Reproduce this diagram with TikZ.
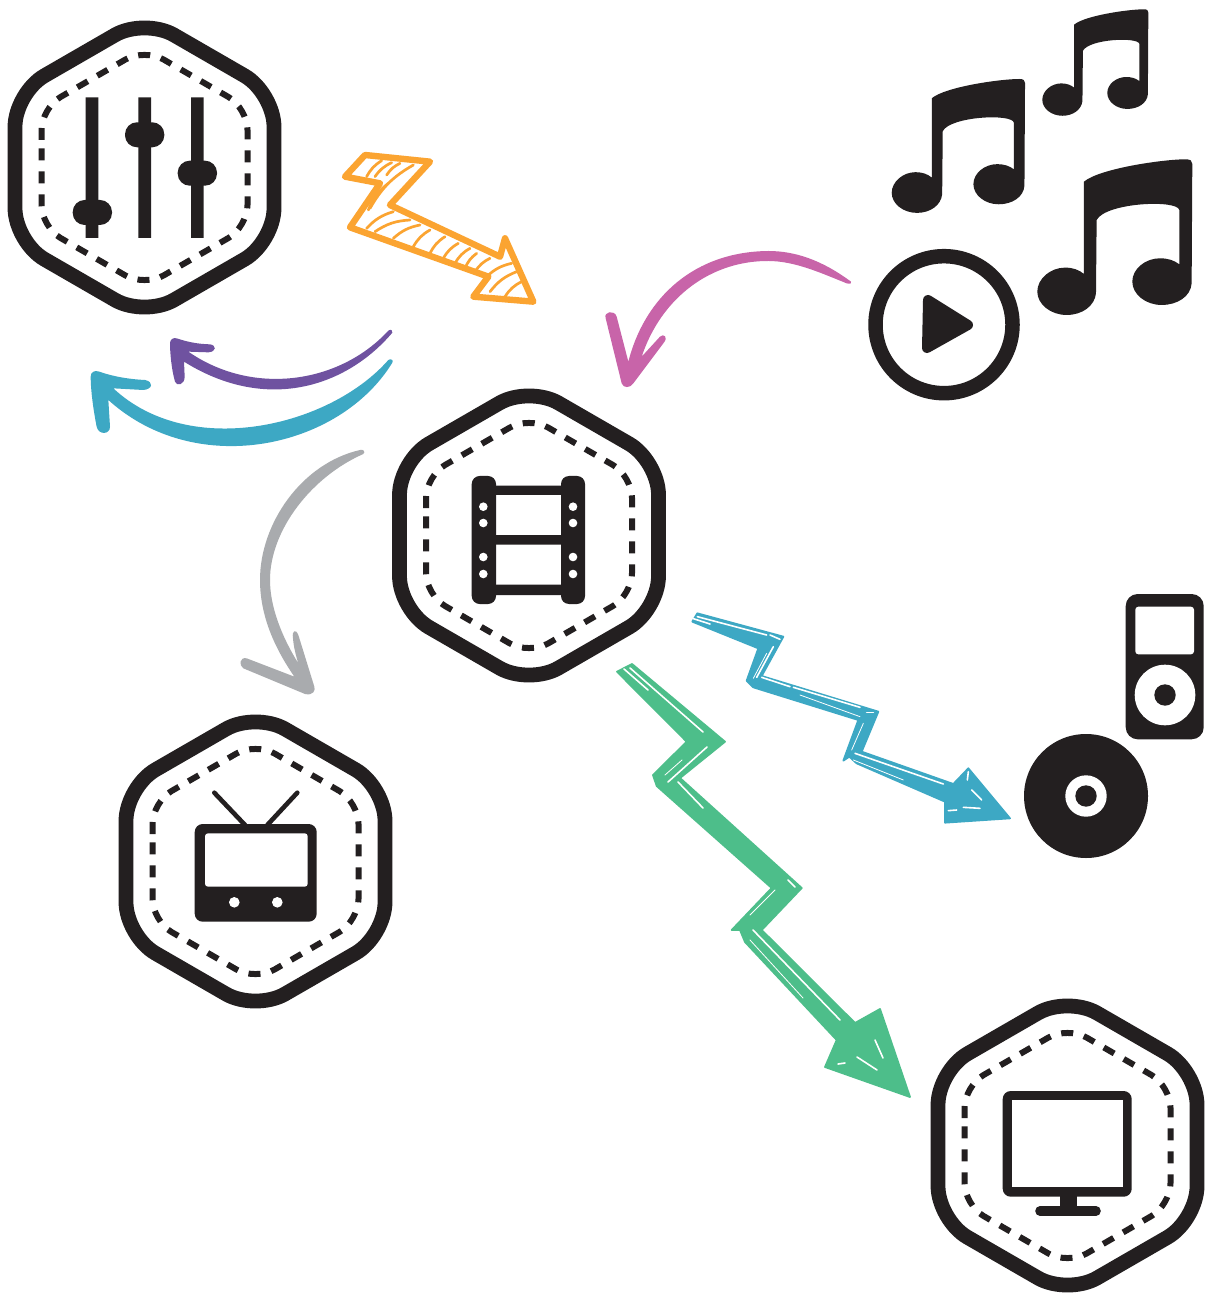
\documentclass[tikz,border=0pt]{standalone}
\definecolor{ink}{HTML}{231F20}
\definecolor{orangeA}{HTML}{FBA431}
\definecolor{pinkA}{HTML}{C864A9}
\definecolor{purpleA}{HTML}{6F52A0}
\definecolor{tealA}{HTML}{3DA8C4}
\definecolor{greenA}{HTML}{4DBE8A}
\definecolor{greyA}{HTML}{A9ABAE}
\tikzset{
  hexouter/.style={draw=ink,line width=7.4pt,rounded corners=17pt,line join=round},
  hexinner/.style={draw=ink,line width=3pt,rounded corners=11pt,dash pattern=on 6pt off 5.5pt,dash phase=8.75pt},
  sliver/.style={draw=white,line width=0.8pt,line cap=round},
  thinsliver/.style={draw=white,line width=0.4pt,line cap=round},
  bluebody/.style={fill=tealA,draw=tealA,line width=0.9pt,line join=round},
  greenbody/.style={fill=greenA,draw=greenA,line width=0.9pt,line join=round},
  hatchline/.style={draw=orangeA,line width=1.35pt,line cap=round},
  orangeline/.style={draw=orangeA,line width=3.2pt,line join=round,line cap=round},
}
\newcommand{\hexagon}[2]{%
  \begin{scope}[shift={(#1,#2)}]
    \draw[hexouter] (129.5,0) -- (129.5,74.75) -- (0,149.5) -- (-129.5,74.75) -- (-129.5,-74.75) -- (0,-149.5) -- (129.5,-74.75) -- cycle;
    \draw[hexinner] (-103,0) -- (-103,-59.5) -- (0,-119) -- (103,-59.5) -- (103,59.5) -- (0,119) -- (-103,59.5) -- cycle;
  \end{scope}}
\newcommand{\notepath}{%
  \fill[ink] (140,67) .. controls (188,27) and (380,0) .. (445,0)
   .. controls (460,0) and (465,5) .. (465,14) -- (463,372)
   .. controls (460,412) and (420,437) .. (373,437)
   .. controls (325,437) and (285,405) .. (285,367)
   .. controls (285,328) and (325,297) .. (368,297)
   .. controls (392,297) and (410,303) .. (426,315) -- (426,152)
   .. controls (420,120) and (205,130) .. (178,182) -- (176,402)
   .. controls (172,440) and (135,467) .. (88,467)
   .. controls (40,467) and (0,435) .. (0,397)
   .. controls (0,358) and (40,325) .. (83,325)
   .. controls (108,325) and (125,332) .. (140,344) -- cycle;}
\begin{document}
\begin{tikzpicture}[x=0.5pt,y=-0.5pt]
\useasboundingbox (0,0) rectangle (1205,1293);
\fill[white] (0,0) rectangle (1205,1293);
% hexagons
\hexagon{144.5}{167.5}
\hexagon{529}{535.5}
\hexagon{255.5}{861.5}
\hexagon{1067.5}{1145.5}
% sliders
\fill[ink] (85.7,97.3) rectangle (98.3,238) (138.3,97.3) rectangle (151,238) (191,97.3) rectangle (203.7,238);
\fill[ink,rounded corners=6pt] (72.7,200) rectangle (112,225);
\fill[ink,rounded corners=6pt] (125,122.3) rectangle (164.3,147.3);
\fill[ink,rounded corners=6pt] (177.7,160.7) rectangle (217,185.7);
% film
\fill[ink,rounded corners=4pt] (471.7,476) rectangle (496,604);
\fill[ink,rounded corners=4pt] (561,476) rectangle (585,604);
\fill[ink] (490,485.7) rectangle (566,495) (490,535) rectangle (566,544.7) (490,584.5) rectangle (566,595);
\foreach \hy in {506.7,523,557,574}{
  \fill[white] (483.3,\hy) circle [radius=4.3];
  \fill[white] (573,\hy) circle [radius=4.3];
}
% tv
\fill[ink,rounded corners=4pt] (194.7,824) rectangle (316.7,921.7);
\fill[white,rounded corners=1.5pt] (205,833.3) rectangle (307.7,886.7);
\fill[white] (234.3,902.3) circle [radius=5.3] (277.3,902.3) circle [radius=5.3];
\draw[ink,line width=2.3pt,line cap=round] (245,825) -- (214.3,792.7) (267.3,825) -- (297.3,792.7);
% monitor
\fill[ink,rounded corners=4pt] (1002.7,1091) rectangle (1131.7,1196.7);
\fill[white] (1011.7,1100) rectangle (1123.3,1187.3);
\fill[ink] (1060,1195) rectangle (1076.7,1208);
\draw[ink,line width=4.8pt,line cap=round] (1040,1211) -- (1096,1211);
% play
\draw[ink,line width=7.25pt] (944,324.7) circle [radius=68.5];
\fill[ink,draw=ink,line width=5pt,line join=round] (928,300) -- (968,325) -- (927,348) -- cycle;
% notes
\begin{scope}[shift={(1037.3,159.3)},scale=1/3]\notepath\end{scope}
\begin{scope}[shift={(891.7,79)},scale=0.2867]\notepath\end{scope}
\begin{scope}[shift={(1042.3,9.3)},scale=0.228]\notepath\end{scope}
% ipod
\fill[ink,rounded corners=6pt] (1125.7,594) rectangle (1203.7,739.3);
\fill[white,rounded corners=1.5pt] (1135.3,606.7) rectangle (1194,654.3);
\fill[white] (1165,695) circle [radius=30.3];
\fill[ink] (1165,695) circle [radius=10.7];
% cd
\fill[ink] (1086,796) circle [radius=62];
\fill[white] (1086,796) circle [radius=20.7];
\fill[ink] (1086,796) circle [radius=10.7];
% orange arrow
\begin{scope}[shift={(330,140)},scale=1/3]
\draw[orangeline] (105,45) -- (300,65) -- (180,195) -- (510,350) -- (525,295) -- (610,485) -- (430,470) -- (475,410) -- (60,262) -- (150,130) -- (45,110) -- cycle;
\foreach \ax/\ay/\bx/\by in {110/110/155/62,135/110/185/68,170/105/210/70,120/205/250/75,115/210/175/130,110/265/190/215,135/275/240/240,190/295/270/255,250/320/300/270,300/340/345/290,340/355/385/310,375/370/420/325,405/385/440/340,435/395/480/355,470/410/545/370,480/455/560/395,525/470/575/425}
  \draw[hatchline] (\ax,\ay) to[bend left=15] (\bx,\by);
\end{scope}
% pink arrow
\begin{scope}[shift={(595,240)},scale=1/3]
\fill[pinkA] (768,125) .. controls (680,60) and (600,33) .. (520,33) .. controls (300,35) and (150,170) .. (100,365) -- (65,230) .. controls (58,208) and (25,215) .. (32,235) -- (80,430) .. controls (85,445) and (105,445) .. (115,430) -- (205,310) .. controls (222,290) and (205,280) .. (195,290) -- (140,350) .. controls (200,170) and (350,62) .. (520,63) .. controls (600,63) and (680,100) .. (755,130) .. controls (765,133) and (772,130) .. (768,125) -- cycle;
\end{scope}
% purple arrow
\begin{scope}[shift={(80,320)},scale=1/3]
\fill[purpleA] (937,38) .. controls (800,200) and (560,280) .. (312,125) -- (314,170) .. controls (314,195) and (290,200) .. (285,185) .. controls (275,150) and (270,100) .. (270,70) .. controls (270,58) and (280,52) .. (290,55) .. controls (320,65) and (350,72) .. (390,73) .. controls (410,76) and (410,95) .. (385,97) -- (325,95) .. controls (520,230) and (780,190) .. (925,32) .. controls (932,26) and (940,32) .. (937,38) -- cycle;
\end{scope}
% teal arrow
\begin{scope}[shift={(80,320)},scale=1/3]
\fill[tealA] (937,128) .. controls (780,385) and (350,480) .. (85,240) -- (90,320) .. controls (90,345) and (55,345) .. (50,320) .. controls (40,270) and (32,210) .. (32,170) .. controls (32,155) and (45,150) .. (58,155) .. controls (100,170) and (150,178) .. (195,180) .. controls (222,185) and (218,208) .. (190,210) -- (100,205) .. controls (330,420) and (750,320) .. (925,120) .. controls (932,115) and (942,120) .. (937,128) -- cycle;
\end{scope}
% grey arrow
\begin{scope}[shift={(235,440)},scale=1/3]
\fill[greyA] (375,30) .. controls (200,70) and (75,250) .. (75,420) .. controls (75,540) and (130,640) .. (178,710) -- (35,655) .. controls (15,650) and (10,675) .. (25,685) -- (210,762) .. controls (235,768) and (242,750) .. (238,740) -- (190,585) .. controls (182,565) and (170,572) .. (174,595) .. controls (176,620) and (182,645) .. (190,670) .. controls (140,590) and (105,500) .. (105,420) .. controls (105,270) and (230,110) .. (385,42) .. controls (392,35) and (385,27) .. (375,30) -- cycle;
\end{scope}
% blue zigzag
\begin{scope}[shift={(610,600)},scale=1/3]
\path[bluebody] (262,40) -- (520,110) -- (455,228) -- (805,335) -- (755,455) -- (1030,552) -- (1075,505) -- (1200,655) -- (1005,668) -- (1005,605) -- (740,490) -- (718,470) -- (700,482) -- (745,360) -- (430,262) -- (410,242) -- (445,145) -- (247,65) -- cycle;
\foreach \ax/\ay/\bx/\by in {262/50/470/105,490/140/440/232,455/232/540/260,550/262/750/322,480/105/510/118,770/338/790/338,735/460/1000/552,1060/622/1110/625,1085/570/1115/600,1015/632/1040/630,1072/540/1075/515,250/56/300/72}
  \draw[sliver] (\ax,\ay) -- (\bx,\by);
\foreach \ax/\ay/\bx/\by in {570/285/750/350,730/480/880/540,470/160/430/235,760/370/725/450}
  \draw[thinsliver] (\ax,\ay) -- (\bx,\by);
\end{scope}
% green zigzag
\path[greenbody] (632,664) -- (725,741.7) -- (680,778) -- (801.7,888) -- (761.7,930) -- (855,1023) -- (880,1009) -- (910,1097) -- (825,1067) -- (836.7,1040) -- (745,942) -- (740,930) -- (731.7,930) -- (771.7,888) -- (656.7,786) -- (653,775) -- (686.7,741.7) -- (617,671.7) -- cycle;
\foreach \ax/\ay/\bx/\by in {630/668/703/732,707/747/668/782,678/782/703/808,753/930/840/1020,857/1057/877/1070,875/1040/883/1058,838/1064/845/1063,788/880/795/887,624/669/648/690}
  \draw[sliver] (\ax,\ay) -- (\bx,\by);
\foreach \ax/\ay/\bx/\by in {750/940/803/998,682/760/665/775,775/890/750/915}
  \draw[thinsliver] (\ax,\ay) -- (\bx,\by);
\end{tikzpicture}
\end{document}
